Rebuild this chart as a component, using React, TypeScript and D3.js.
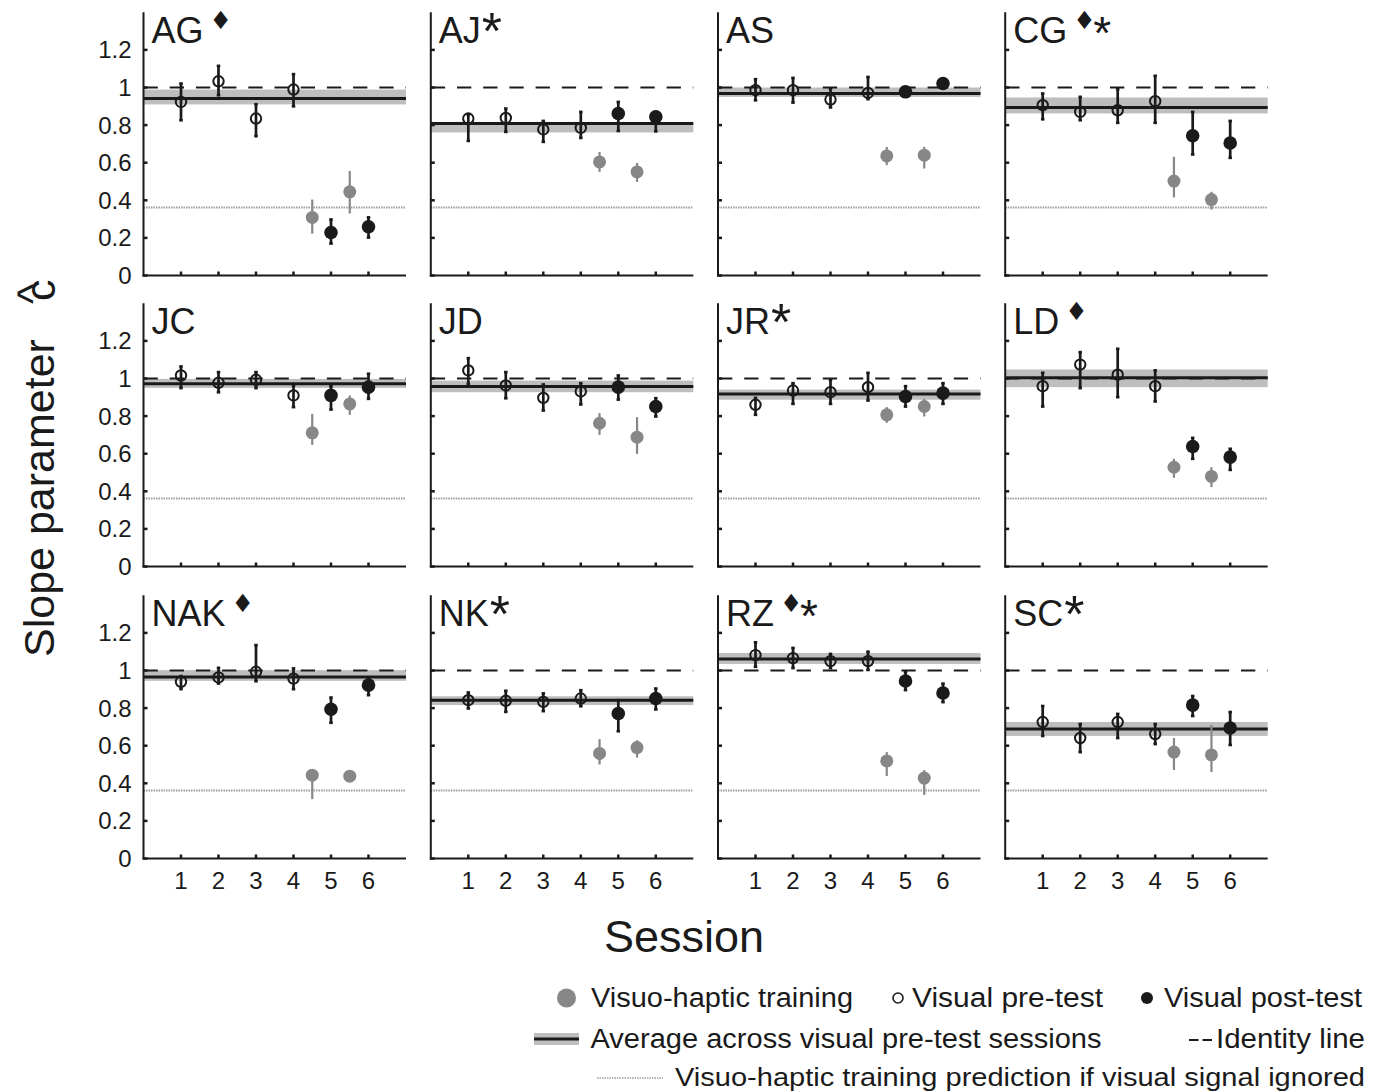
import React from "react";
import * as d3 from "d3";

// ---------- data ----------
const subjects = ["AG", "AJ", "AS", "CG", "JC", "JD", "JR", "LD", "NAK", "NK", "RZ", "SC"];
const diamondMark = [true, false, false, true, false, false, false, true, true, false, true, false];
const starMark = [false, true, false, true, false, false, true, false, false, true, true, true];

const preSessions = [1, 2, 3, 4];
const trainSessions = [4.5, 5.5];
const postSessions = [5, 6];

const preMean = [
  [0.923, 1.033, 0.835, 0.989],
  [0.835, 0.838, 0.777, 0.785],
  [0.986, 0.986, 0.936, 0.971],
  [0.906, 0.870, 0.879, 0.927],
  [1.016, 0.977, 0.993, 0.910],
  [1.043, 0.963, 0.897, 0.931],
  [0.860, 0.936, 0.927, 0.954],
  [0.959, 1.074, 1.020, 0.959],
  [0.940, 0.963, 0.993, 0.957],
  [0.842, 0.839, 0.833, 0.851],
  [1.082, 1.066, 1.050, 1.050],
  [0.726, 0.641, 0.726, 0.662],
];
const preLo = [
  [0.826, 0.959, 0.741, 0.900],
  [0.716, 0.764, 0.711, 0.732],
  [0.932, 0.920, 0.894, 0.938],
  [0.831, 0.826, 0.812, 0.812],
  [0.949, 0.927, 0.949, 0.848],
  [0.972, 0.895, 0.830, 0.862],
  [0.807, 0.865, 0.865, 0.883],
  [0.851, 0.949, 0.901, 0.878],
  [0.901, 0.931, 0.943, 0.901],
  [0.798, 0.780, 0.784, 0.810],
  [1.020, 1.013, 1.013, 1.003],
  [0.652, 0.566, 0.641, 0.609],
];
const preHi = [
  [1.021, 1.115, 0.911, 1.071],
  [0.856, 0.888, 0.822, 0.870],
  [1.044, 1.051, 0.995, 1.056],
  [0.968, 0.950, 0.991, 1.062],
  [1.064, 1.034, 1.034, 0.963],
  [1.108, 1.034, 0.968, 0.975],
  [0.897, 0.975, 0.993, 1.030],
  [1.030, 1.140, 1.158, 1.043],
  [0.970, 1.014, 1.135, 1.011],
  [0.883, 0.892, 0.878, 0.895],
  [1.150, 1.120, 1.088, 1.100],
  [0.811, 0.715, 0.769, 0.715],
];

const trainMean = [
  [0.309, 0.445],
  [0.604, 0.551],
  [0.636, 0.640],
  [0.502, 0.404],
  [0.711, 0.865],
  [0.762, 0.688],
  [0.807, 0.851],
  [0.528, 0.479],
  [0.443, 0.438],
  [0.559, 0.590],
  [0.519, 0.428],
  [0.566, 0.551],
];
const trainLo = [
  [0.223, 0.330],
  [0.551, 0.498],
  [0.587, 0.569],
  [0.415, 0.351],
  [0.647, 0.807],
  [0.700, 0.599],
  [0.764, 0.798],
  [0.472, 0.422],
  [0.316, 0.425],
  [0.500, 0.537],
  [0.439, 0.338],
  [0.471, 0.460],
];
const trainHi = [
  [0.404, 0.556],
  [0.657, 0.599],
  [0.684, 0.684],
  [0.631, 0.445],
  [0.812, 0.910],
  [0.816, 0.794],
  [0.848, 0.892],
  [0.573, 0.528],
  [0.470, 0.452],
  [0.635, 0.629],
  [0.566, 0.470],
  [0.641, 0.710],
];

const postMean = [
  [0.229, 0.259],
  [0.862, 0.844],
  [0.977, 1.021],
  [0.743, 0.705],
  [0.910, 0.954],
  [0.954, 0.851],
  [0.904, 0.922],
  [0.638, 0.582],
  [0.794, 0.922],
  [0.771, 0.851],
  [0.944, 0.880],
  [0.816, 0.694],
];
const postLo = [
  [0.170, 0.202],
  [0.769, 0.767],
  [0.955, 1.005],
  [0.644, 0.626],
  [0.835, 0.892],
  [0.888, 0.798],
  [0.851, 0.865],
  [0.573, 0.514],
  [0.722, 0.869],
  [0.677, 0.793],
  [0.896, 0.832],
  [0.758, 0.604],
];
const postHi = [
  [0.298, 0.309],
  [0.923, 0.870],
  [0.995, 1.035],
  [0.870, 0.822],
  [0.959, 1.025],
  [1.016, 0.895],
  [0.959, 0.975],
  [0.684, 0.626],
  [0.856, 0.957],
  [0.842, 0.904],
  [0.992, 0.930],
  [0.864, 0.779],
];

const avgLine = [0.941, 0.809, 0.968, 0.894, 0.972, 0.957, 0.918, 1.004, 0.966, 0.842, 1.061, 0.689];
const bandLo = [0.910, 0.761, 0.950, 0.862, 0.950, 0.927, 0.887, 0.954, 0.945, 0.816, 1.035, 0.652];
const bandHi = [0.989, 0.817, 1.000, 0.947, 0.998, 0.989, 0.941, 1.048, 1.002, 0.863, 1.093, 0.726];

const identityValue = 1;
const predictionValue = 0.362;

const yTicks = [0, 0.2, 0.4, 0.6, 0.8, 1, 1.2];
const yTickLabels = ["0", "0.2", "0.4", "0.6", "0.8", "1", "1.2"];
const xTicks = [1, 2, 3, 4, 5, 6];
const xTickLabels = ["1", "2", "3", "4", "5", "6"];

const legendRow1 = ["Visuo-haptic training", "Visual pre-test", "Visual post-test"];
const legendRow2 = ["Average across visual pre-test sessions", "Identity line"];
const legendRow3 = ["Visuo-haptic training prediction if visual signal ignored"];

// ---------- layout ----------
const W = 1382;
const H = 1092;
const colAxisX = [143.5, 430.8, 718, 1005.2];
const rowBottom = [275.5, 566.5, 858.5];
const sessionStep = 37.5;
const unitPx = 188;
const FONT = "'Liberation Sans', Arial, Helvetica, sans-serif";

const GRAY_PT = "#878787";
const BAND = "#bdbec0";
const INK = "#1a1a1a";
const PRED = "#9c9c9c";

let measureCtx: CanvasRenderingContext2D | null = null;
function textWidth(t: string, size: number) {
  if (!measureCtx) {
    const c = document.createElement("canvas");
    measureCtx = c.getContext("2d");
  }
  if (!measureCtx) return t.length * size * 0.6;
  measureCtx.font = `${size}px 'Liberation Sans', Arial, sans-serif`;
  return measureCtx.measureText(t).width;
}

function ErrBar({ x, y1, y2, color, w, cap }: any) {
  return (
    <g stroke={color} strokeWidth={w}>
      <line x1={x} x2={x} y1={y1} y2={y2} />
      {cap > 0 && <line x1={x - cap / 2} x2={x + cap / 2} y1={y1} y2={y1} />}
      {cap > 0 && <line x1={x - cap / 2} x2={x + cap / 2} y1={y2} y2={y2} />}
    </g>
  );
}

function Panel({ i }: { i: number }) {
  const col = i % 4;
  const row = Math.floor(i / 4);
  const x0 = colAxisX[col];
  const yb = rowBottom[row];
  const x = d3.scaleLinear().domain([0, 7]).range([x0, x0 + 7 * sessionStep]);
  const y = d3.scaleLinear().domain([0, 1.4]).range([yb, yb - 1.4 * unitPx]);
  const [xa, xb] = x.range();

  const name = subjects[i];
  const nameX = x0 + 8;
  const nameY = yb - 233;
  const nameW = textWidth(name, 36);
  let markX = nameX + nameW + 6;
  const marks: any[] = [];
  if (diamondMark[i]) {
    marks.push(
      <text key="d" x={markX} y={nameY - 14} fontSize={25} fontFamily="'DejaVu Sans', sans-serif" fill={INK}>
        {"\u2666"}
      </text>
    );
    markX += 20;
  } else {
    markX = nameX + nameW + 1;
  }
  if (starMark[i]) {
    marks.push(
      <text key="s" x={markX} y={nameY + 6} fontSize={diamondMark[i] ? 46 : 52} fontFamily={FONT} fill={INK}>
        *
      </text>
    );
  }

  return (
    <g>
      <rect x={xa} width={xb - xa} y={y(bandHi[i])} height={y(bandLo[i]) - y(bandHi[i])} fill={BAND} />
      <line x1={xa} x2={xb} y1={y(predictionValue)} y2={y(predictionValue)} stroke={PRED} strokeWidth={2} strokeDasharray="1.5 1" />
      <line x1={xa} x2={xb} y1={y(identityValue)} y2={y(identityValue)} stroke={INK} strokeWidth={2} strokeDasharray="14.3 11.9" />
      <line x1={xa} x2={xb} y1={y(avgLine[i])} y2={y(avgLine[i])} stroke={INK} strokeWidth={3} />

      <line x1={xa} x2={xa} y1={yb + 1} y2={y(1.4)} stroke={INK} strokeWidth={2} />
      <line x1={xa - 1} x2={xb} y1={yb} y2={yb} stroke={INK} strokeWidth={2} />
      {yTicks.map((t, k) => (
        <line key={"yt" + k} x1={xa} x2={xa + 4} y1={y(t)} y2={y(t)} stroke={INK} strokeWidth={2.5} />
      ))}
      {xTicks.map((t, k) => (
        <line key={"xt" + k} x1={x(t)} x2={x(t)} y1={yb} y2={yb - 4} stroke={INK} strokeWidth={2.5} />
      ))}
      {col === 0 &&
        yTicks.map((t, k) => (
          <text key={"yl" + k} x={xa - 12} y={y(t) + 8.5} textAnchor="end" fontSize={24} fontFamily={FONT} fill={INK}>
            {yTickLabels[k]}
          </text>
        ))}
      {row === 2 &&
        xTicks.map((t, k) => (
          <text key={"xl" + k} x={x(t)} y={yb + 30} textAnchor="middle" fontSize={24} fontFamily={FONT} fill={INK}>
            {xTickLabels[k]}
          </text>
        ))}

      {trainSessions.map((s, k) => (
        <g key={"tr" + k}>
          <ErrBar x={x(s)} y1={y(trainLo[i][k])} y2={y(trainHi[i][k])} color={GRAY_PT} w={2.2} cap={0} />
          <circle cx={x(s)} cy={y(trainMean[i][k])} r={6.5} fill={GRAY_PT} />
        </g>
      ))}
      {preSessions.map((s, k) => (
        <g key={"pre" + k}>
          <ErrBar x={x(s)} y1={y(preLo[i][k])} y2={y(preHi[i][k])} color={INK} w={2.7} cap={3.5} />
          <circle cx={x(s)} cy={y(preMean[i][k])} r={5.2} fill="none" stroke={INK} strokeWidth={2} />
        </g>
      ))}
      {postSessions.map((s, k) => (
        <g key={"post" + k}>
          <ErrBar x={x(s)} y1={y(postLo[i][k])} y2={y(postHi[i][k])} color={INK} w={2.7} cap={3.5} />
          <circle cx={x(s)} cy={y(postMean[i][k])} r={6.8} fill={INK} />
        </g>
      ))}

      <text x={nameX} y={nameY} fontSize={36} fontFamily={FONT} fill={INK}>
        {name}
      </text>
      {marks}
    </g>
  );
}

export default function App() {
  const lx = 27;
  return (
    <svg width={W} height={H} viewBox={`0 0 ${W} ${H}`} style={{ position: "absolute", left: 0, top: 0, background: "#fff" }}>
      <rect x={0} y={0} width={W} height={H} fill="#fff" />
      {subjects.map((_, i) => (
        <Panel key={i} i={i} />
      ))}

      <text x={684} y={952} textAnchor="middle" fontSize={45} fontFamily={FONT} fill={INK}>
        Session
      </text>
      <text transform="translate(54,657) rotate(-90)" fontSize={43} fontFamily={FONT} fill={INK}>
        Slope parameter
      </text>
      <text transform="translate(55,301) rotate(-90)" fontSize={43} fontFamily={FONT} fill={INK}>
        c
      </text>
      <text transform="translate(47,304) rotate(-90)" fontSize={43} fontFamily={FONT} fill={INK}>
        ^
      </text>

      <circle cx={566.5} cy={998} r={9.5} fill={GRAY_PT} />
      <text x={591} y={1007} fontSize={lx} fontFamily={FONT} fill={INK} textLength={262} lengthAdjust="spacingAndGlyphs">
        {legendRow1[0]}
      </text>
      <circle cx={898} cy={998} r={5} fill="none" stroke={INK} strokeWidth={1.6} />
      <text x={912} y={1007} fontSize={lx} fontFamily={FONT} fill={INK} textLength={191} lengthAdjust="spacingAndGlyphs">
        {legendRow1[1]}
      </text>
      <circle cx={1147} cy={998} r={6} fill={INK} />
      <text x={1164} y={1007} fontSize={lx} fontFamily={FONT} fill={INK} textLength={198} lengthAdjust="spacingAndGlyphs">
        {legendRow1[2]}
      </text>

      <rect x={534} y={1033} width={45} height={12} fill={BAND} />
      <line x1={534} x2={579} y1={1039} y2={1039} stroke={INK} strokeWidth={3} />
      <text x={590.5} y={1048} fontSize={lx} fontFamily={FONT} fill={INK} textLength={511} lengthAdjust="spacingAndGlyphs">
        {legendRow2[0]}
      </text>
      <line x1={1189} x2={1212} y1={1040} y2={1040} stroke={INK} strokeWidth={2} strokeDasharray="9.5 4" />
      <text x={1216} y={1048} fontSize={lx} fontFamily={FONT} fill={INK} textLength={149} lengthAdjust="spacingAndGlyphs">
        {legendRow2[1]}
      </text>

      <line x1={597} x2={663} y1={1078} y2={1078} stroke={PRED} strokeWidth={1.6} strokeDasharray="1.5 1" />
      <text x={675} y={1086} fontSize={26} fontFamily={FONT} fill={INK} textLength={690} lengthAdjust="spacingAndGlyphs">
        {legendRow3[0]}
      </text>
    </svg>
  );
}
